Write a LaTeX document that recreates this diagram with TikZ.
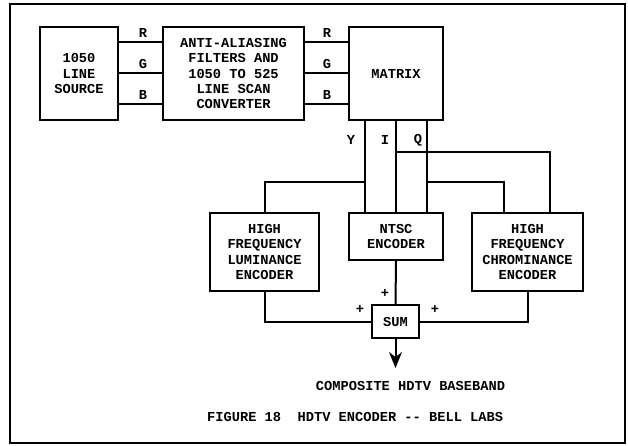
\documentclass[tikz,border=0pt]{standalone}
\usepackage{fontspec}
\setmainfont{Liberation Mono}
\usetikzlibrary{arrows.meta}
\begin{document}
\begin{tikzpicture}[x=1pt,y=-1pt,
  every node/.style={font=\bfseries\fontsize{13.7}{15.2}\selectfont,inner sep=0pt},
  blk/.style={draw,line width=2pt,align=center},
  wire/.style={line width=2pt}]
\useasboundingbox (0,0) rectangle (628,445);
\draw[line width=2.5pt] (10,4) rectangle (625,443);
% blocks
\node[blk,minimum width=78pt,minimum height=93pt] (src) at (79,73.5) {1050\\LINE\\SOURCE};
\node[blk,minimum width=141pt,minimum height=93pt] (aa) at (233.5,73.5) {ANTI-ALIASING\\FILTERS AND\\1050 TO 525\\LINE SCAN\\CONVERTER};
\node[blk,minimum width=94pt,minimum height=93pt] (mx) at (396,73.5) {MATRIX};
\node[blk,minimum width=109pt,minimum height=78pt] (lum) at (264.5,252) {HIGH\\FREQUENCY\\LUMINANCE\\ENCODER};
\node[blk,minimum width=94pt,minimum height=47pt] (ntsc) at (396,236.5) {NTSC\\ENCODER};
\node[blk,minimum width=111pt,minimum height=78pt] (chr) at (527.5,252) {HIGH\\FREQUENCY\\CHROMINANCE\\ENCODER};
\node[blk,minimum width=47pt,minimum height=33pt] (sum) at (395.5,321.5) {SUM};
% RGB
\foreach \yy in {42,73,104}{
  \draw[wire] (src.east |- 0,\yy) -- (aa.west |- 0,\yy);
  \draw[wire] (aa.east |- 0,\yy) -- (mx.west |- 0,\yy);
}
\node (lr1) at (143,33) {R};
\node (lg1) at (143,64) {G};
\node (lb1) at (143,95) {B};
\node (lr2) at (327,33) {R};
\node (lg2) at (327,64) {G};
\node (lb2) at (327,95) {B};
% YIQ
\draw[wire] (mx.south -| 365,0) -- (ntsc.north -| 365,0);
\draw[wire] (mx.south -| 396,0) -- (ntsc.north -| 396,0);
\draw[wire] (mx.south -| 427,0) -- (ntsc.north -| 427,0);
\node (ly) at (351,140) {Y};
\node (li) at (385,140) {I};
\node (lq) at (418,140) {Q};
\draw[wire] (365,182) -| (lum.north);
\draw[wire] (396,152) -| (chr.north -| 550,0);
\draw[wire] (427,182) -| (chr.north -| 504,0);
% to sum
\draw[wire] (ntsc.south) -- (sum.north);
\draw[wire] (lum.south) |- (sum.west);
\draw[wire] (chr.south) |- (sum.east);
\node (p1) at (385,293) {+};
\node (p2) at (360,309) {+};
\node (p3) at (435,309) {+};
\coordinate (out) at (395.5,368);
\draw[wire,-{Stealth[length=16pt,width=13pt,inset=5pt]}] (sum.south) -- (out);
\node (comp) at (410.5,386) {COMPOSITE HDTV BASEBAND};
\node[anchor=west] (fig) at (207,417) {FIGURE 18~~HDTV ENCODER -{}- BELL LABS};
\end{tikzpicture}
\end{document}
